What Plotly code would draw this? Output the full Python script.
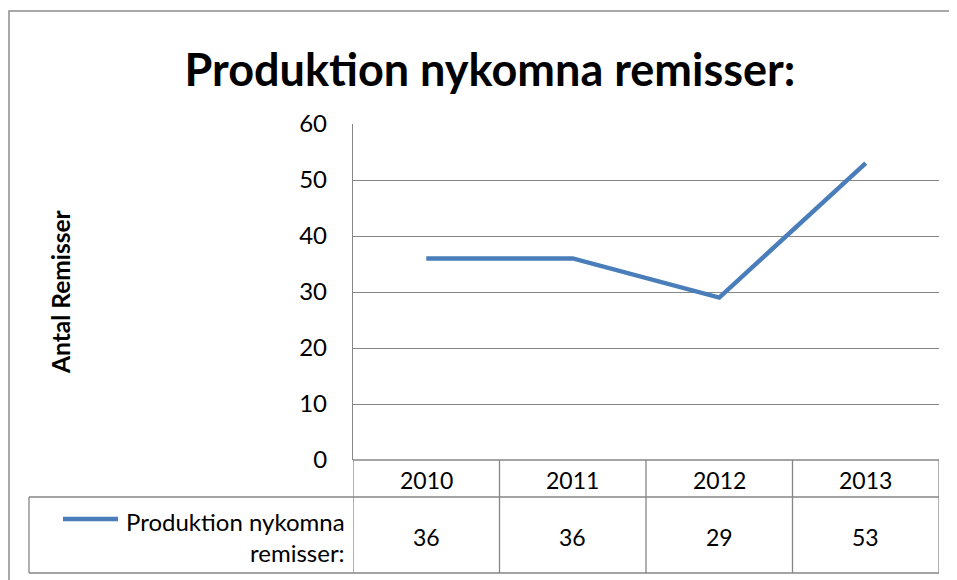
import plotly.graph_objects as go

years = ["2010", "2011", "2012", "2013"]
values = [36, 36, 29, 53]
series_name = "Produktion nykomna remisser:"
y_ticks = [0, 10, 20, 30, 40, 50, 60]
y_title = "Antal Remisser"
title_text = "Produktion nykomna remisser:"

FONT = "Lato, Calibri, sans-serif"
LINE_BLUE = "#4A7EBB"
GRID = "#868686"

OFF = 8  # page body margin
W, H = 957 - OFF, 580 - OFF
L, T = 353 - OFF, 124 - OFF
R = W - (939 - OFF)
B = H - (460 - OFF)
PW, PH = W - L - R, H - T - B

def px_x(p):  # screen pixel -> paper x
    return (p - OFF - L) / PW

def px_y(p):  # screen pixel -> paper y
    return (H - B - (p - OFF)) / PH

xs = list(range(len(years)))

fig = go.Figure()
fig.add_trace(go.Scatter(
    x=xs, y=values, mode="lines", name=series_name,
    line=dict(color=LINE_BLUE, width=4.5), showlegend=False,
    hoverinfo="skip",
))

shapes = []
# outer chart border (cropped on right and bottom): open path along left and top edges
bx, btop, bbot, bright = px_x(9), px_y(11), px_y(590), px_x(975)
shapes.append(dict(type="path", xref="paper", yref="paper",
                   path=f"M {bx},{bbot} L {bx},{btop} L {bright},{btop}",
                   fillcolor="rgba(0,0,0,0)",
                   line=dict(color="#8c8c8c", width=1.5)))

row_mid = px_y(497)
row_bot = px_y(573)
# table horizontal lines
shapes.append(dict(type="line", xref="paper", yref="paper", x0=0, x1=1, y0=0, y1=0,
                   line=dict(color=GRID, width=1.3)))
shapes.append(dict(type="line", xref="paper", yref="paper", x0=px_x(29), x1=1,
                   y0=row_mid, y1=row_mid, line=dict(color=GRID, width=1.3)))
shapes.append(dict(type="line", xref="paper", yref="paper", x0=px_x(29), x1=1,
                   y0=row_bot, y1=row_bot, line=dict(color=GRID, width=1.3)))
# table vertical lines
shapes.append(dict(type="line", xref="paper", yref="paper", x0=px_x(29), x1=px_x(29),
                   y0=row_mid, y1=row_bot, line=dict(color=GRID, width=1.3)))
for i in range(len(years) + 1):
    xb = i - 0.5
    shapes.append(dict(type="line", xref="x", yref="paper", x0=xb, x1=xb,
                       y0=0, y1=row_bot, line=dict(color=GRID, width=1.3)))
# legend key line in table
shapes.append(dict(type="line", xref="paper", yref="paper", x0=px_x(63), x1=px_x(118),
                   y0=px_y(519), y1=px_y(519), line=dict(color=LINE_BLUE, width=4.5)))

annotations = []
for i, (yr, v) in enumerate(zip(years, values)):
    annotations.append(dict(x=i, y=px_y(480), xref="x", yref="paper", text=yr,
                            xanchor="center", yanchor="middle",
                            showarrow=False, font=dict(family=FONT, size=23, color="#000")))
    annotations.append(dict(x=i, y=px_y(537), xref="x", yref="paper", text=str(v),
                            xanchor="center", yanchor="middle",
                            showarrow=False, font=dict(family=FONT, size=23, color="#000")))
annotations.append(dict(x=px_x(347), y=px_y(537), xref="paper", yref="paper",
                        text="Produktion nykomna<br>remisser:", align="right",
                        xanchor="right", yanchor="middle", showarrow=False,
                        font=dict(family=FONT, size=24, color="#000")))
annotations.append(dict(x=px_x(60), y=0.5, xref="paper", yref="paper", text="<b>" + y_title + "</b>",
                        textangle=-90, showarrow=False, xanchor="center", yanchor="middle",
                        font=dict(family=FONT, size=24.5, color="#000")))

fig.update_layout(
    width=W, height=H,
    margin=dict(l=L, r=R, t=T, b=B, pad=0),
    paper_bgcolor="white", plot_bgcolor="white",
    title=dict(text="<b>" + title_text + "</b>", x=(490 - OFF) / W, xanchor="center",
               y=1 - (70 - OFF) / H, yanchor="middle", yref="container",
               font=dict(family=FONT, size=45, color="#000")),
    xaxis=dict(range=[-0.5, len(years) - 0.5], showgrid=False, zeroline=False,
               showticklabels=False, showline=False, ticks=""),
    yaxis=dict(range=[0, 60], tickvals=y_ticks, showgrid=True, gridcolor=GRID, gridwidth=1.3,
               zeroline=False, showline=True, linecolor=GRID, linewidth=1.3,
               ticks="", ticklabelstandoff=20,
               tickfont=dict(family=FONT, size=24, color="#000")),
    shapes=shapes, annotations=annotations,
)

fig.write_html("out.html")
